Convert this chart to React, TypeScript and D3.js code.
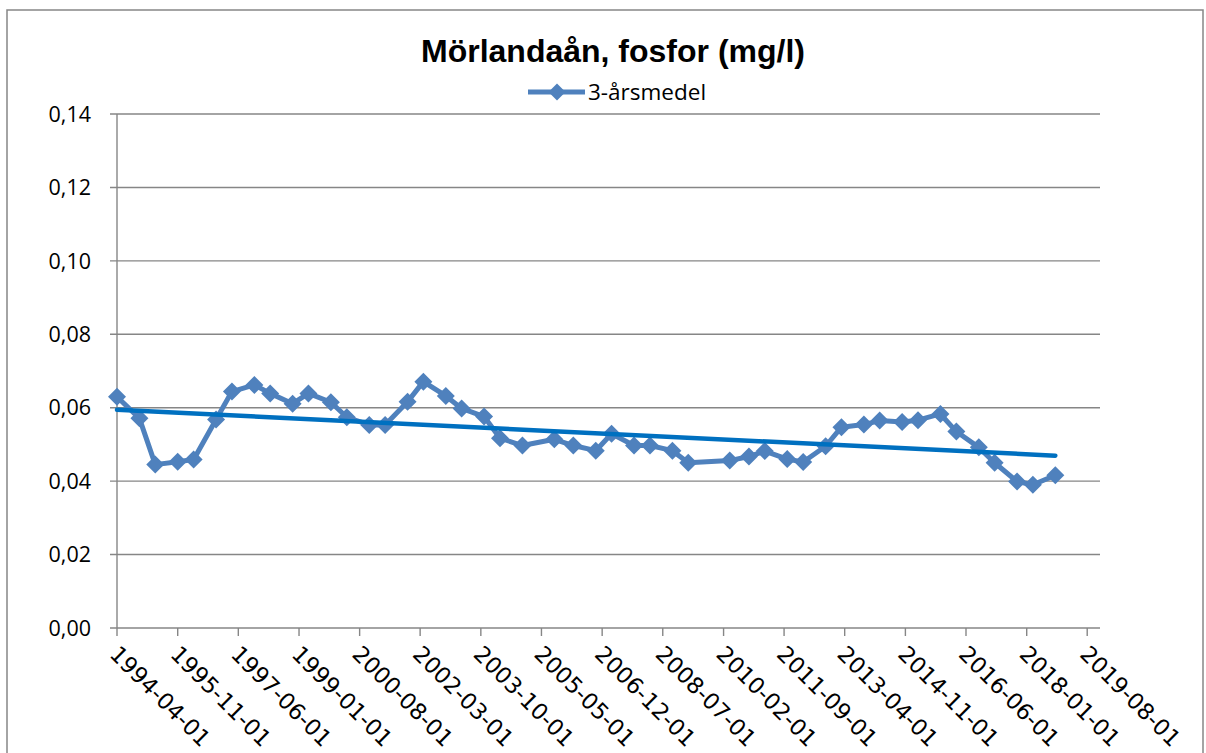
import React from "react";
import * as d3 from "d3";

const title = "Mörlandaån, fosfor (mg/l)";
const seriesName = "3-årsmedel";

const dates: string[] = [
  "1994-04-01", "1994-11-01", "1995-04-01", "1995-11-01", "1996-04-01", "1996-11-01",
  "1997-04-01", "1997-11-01", "1998-04-01", "1998-11-01", "1999-04-01", "1999-11-01",
  "2000-04-01", "2000-11-01", "2001-04-01", "2001-11-01", "2002-04-01", "2002-11-01",
  "2003-04-01", "2003-11-01", "2004-04-01", "2004-11-01", "2005-09-01", "2006-03-01",
  "2006-10-01", "2007-03-01", "2007-10-01", "2008-03-01", "2008-10-01", "2009-03-01",
  "2010-04-01", "2010-10-01", "2011-03-01", "2011-10-01", "2012-03-01", "2012-10-01",
  "2013-03-01", "2013-10-01", "2014-03-01", "2014-10-01", "2015-03-01", "2015-10-01",
  "2016-03-01", "2016-10-01", "2017-03-01", "2017-10-01", "2018-03-01", "2018-10-01",
];

const values: number[] = [
  0.0630, 0.0571, 0.0445, 0.0453, 0.0459, 0.0568,
  0.0644, 0.0662, 0.0639, 0.0611, 0.0639, 0.0615,
  0.0574, 0.0553, 0.0553, 0.0616, 0.0671, 0.0632,
  0.0598, 0.0576, 0.0517, 0.0497, 0.0514, 0.0497,
  0.0483, 0.0529, 0.0497, 0.0497, 0.0483, 0.0450,
  0.0456, 0.0467, 0.0482, 0.0460, 0.0452, 0.0495,
  0.0547, 0.0554, 0.0565, 0.0561, 0.0566, 0.0583,
  0.0535, 0.0492, 0.0450, 0.0399, 0.0390, 0.0416,
];

const xTickLabels: string[] = [
  "1994-04-01", "1995-11-01", "1997-06-01", "1999-01-01", "2000-08-01", "2002-03-01",
  "2003-10-01", "2005-05-01", "2006-12-01", "2008-07-01", "2010-02-01", "2011-09-01",
  "2013-04-01", "2014-11-01", "2016-06-01", "2018-01-01", "2019-08-01",
];

const yTicks: number[] = [0, 0.02, 0.04, 0.06, 0.08, 0.1, 0.12, 0.14];

const xDomain: string[] = ["1994-04-01", "2019-12-01"];

const W = 1206;
const H = 753;
const parse = d3.utcParse("%Y-%m-%d");

export default function App() {
  const x = d3
    .scaleUtc()
    .domain(xDomain.map((d) => parse(d) as Date))
    .range([117, 1100]);
  const y = d3.scaleLinear().domain([0, 0.14]).range([628, 114]);

  const pts = dates.map((d, i) => ({ date: parse(d) as Date, v: values[i] }));

  const line = d3
    .line<{ date: Date; v: number }>()
    .x((d) => x(d.date))
    .y((d) => y(d.v));

  // linear trend (least squares)
  const xs = pts.map((p) => p.date.getTime());
  const mx = d3.mean(xs) as number;
  const my = d3.mean(values) as number;
  let num = 0;
  let den = 0;
  xs.forEach((t, i) => {
    num += (t - mx) * (values[i] - my);
    den += (t - mx) * (t - mx);
  });
  const slope = num / den;
  const icpt = my - slope * mx;
  const t0 = xs[0];
  const t1 = xs[xs.length - 1];
  const trend = [
    { date: new Date(t0), v: icpt + slope * t0 },
    { date: new Date(t1), v: icpt + slope * t1 },
  ];

  const diamond = (cx: number, cy: number, r: number) =>
    `M${cx},${cy - r}L${cx + r},${cy}L${cx},${cy + r}L${cx - r},${cy}Z`;

  const grid = "#868686";
  const blue = "#4F81BD";
  const trendBlue = "#0070C0";
  const fmt = (v: number) => v.toFixed(2).replace(".", ",");

  return (
    <svg
      width={W}
      height={H}
      style={{ position: "absolute", left: 0, top: 0, background: "#fff" }}
    >
      <rect x={7} y={10} width={1196} height={800} fill="#fff" stroke={grid} strokeWidth={1.5} />

      <text
        x={613}
        y={62}
        textAnchor="middle"
        fontFamily="'Liberation Sans', Arial, sans-serif"
        fontWeight="bold"
        fontSize={32}
        fill="#000"
      >
        {title}
      </text>

      {/* legend */}
      <line x1={528} x2={585} y1={92} y2={92} stroke={blue} strokeWidth={5} />
      <path d={diamond(557, 92, 8.5)} fill={blue} />
      <text
        x={588}
        y={92}
        dy="0.35em"
        fontFamily="'Open Sans', sans-serif"
        fontSize={22.5}
        fill="#000"
      >
        {seriesName}
      </text>

      {/* gridlines + y ticks */}
      {yTicks.map((t) => (
        <g key={t}>
          <line x1={110} x2={1100} y1={y(t)} y2={y(t)} stroke={grid} strokeWidth={1.4} />
          <text
            x={91}
            y={y(t)}
            dy="0.36em"
            textAnchor="end"
            fontFamily="'Open Sans', sans-serif"
            fontSize={21.5}
            fill="#000"
          >
            {fmt(t)}
          </text>
        </g>
      ))}
      <line x1={117} x2={117} y1={114} y2={628} stroke={grid} strokeWidth={1.4} />

      {/* x ticks */}
      {xTickLabels.map((l) => {
        const tx = x(parse(l) as Date);
        return (
          <g key={l}>
            <line x1={tx} x2={tx} y1={628} y2={636} stroke={grid} strokeWidth={1.4} />
            <text
              transform={`translate(${tx - 3},${650}) rotate(45)`}
              dy="0.35em"
              fontFamily="'DejaVu Sans', Verdana, sans-serif"
              fontSize={22.5}
              fill="#000"
            >
              {l}
            </text>
          </g>
        );
      })}

      {/* series */}
      <path d={line(pts) || ""} fill="none" stroke={blue} strokeWidth={5} strokeLinejoin="round" />
      {pts.map((p, i) => (
        <path key={i} d={diamond(x(p.date), y(p.v), 9)} fill={blue} />
      ))}

      {/* trend */}
      <path d={line(trend) || ""} fill="none" stroke={trendBlue} strokeWidth={4.5} strokeLinecap="round" />
    </svg>
  );
}
